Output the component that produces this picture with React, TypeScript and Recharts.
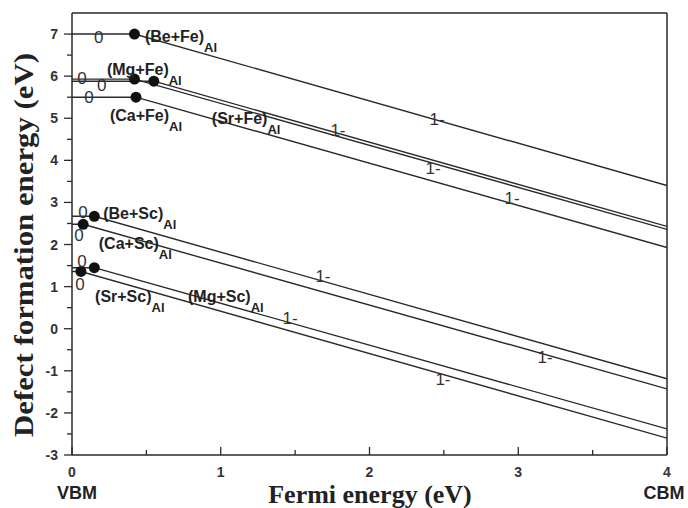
import React from "react";
import { LineChart, Line, XAxis, YAxis, ReferenceLine, ReferenceDot } from "recharts";

// defect complexes, neutral (0) formation energy, 0/1- transition level and value at the CBM
const defects = ["(Be+Fe)", "(Mg+Fe)", "(Sr+Fe)", "(Ca+Fe)", "(Be+Sc)", "(Ca+Sc)", "(Mg+Sc)", "(Sr+Sc)"];
const neutralLevel = [7.0, 5.93, 5.88, 5.5, 2.67, 2.48, 1.45, 1.36];
const transitionX = [0.42, 0.42, 0.55, 0.43, 0.15, 0.075, 0.15, 0.06];
const cbmLevel = [3.4, 2.36, 2.43, 1.93, -1.19, -1.43, -2.38, -2.6];

// where the names sit (left edge, middle), in eV
const nameX = [0.49, 0.235, 0.94, 0.255, 0.21, 0.18, 0.78, 0.155];
const nameY = [6.95, 6.17, 5.0, 5.08, 2.75, 2.04, 0.78, 0.78];

// charge state labels
const zeroX = [0.18, 0.067, 0.2, 0.114, 0.074, 0.047, 0.067, 0.054];
const zeroY = [6.93, 5.96, 5.79, 5.5, 2.77, 2.23, 1.61, 1.06];
const minusX = [2.454, 1.788, 2.427, 2.958, 1.687, 1.466, 3.18, 2.494];
const minusY = [4.98, 4.72, 3.82, 3.1, 1.25, 0.26, -0.67, -1.19];

const xTicks = [0, 0.5, 1, 1.5, 2, 2.5, 3, 3.5, 4];
const yTicks = [-3, -2.5, -2, -1.5, -1, -0.5, 0, 0.5, 1, 1.5, 2, 2.5, 3, 3.5, 4, 4.5, 5, 5.5, 6, 6.5, 7];

const series = defects.map((name, i) => ({
  name,
  points: [
    { x: 0, y: neutralLevel[i] },
    { x: transitionX[i], y: neutralLevel[i] },
    { x: 4, y: cbmLevel[i] },
  ],
}));

const sans = "'Liberation Sans', Arial, sans-serif";
const serif = "'Liberation Serif', 'Times New Roman', serif";
const ink = "#2a2a2a";

const YTick = (props: any) => {
  const { x, y, payload } = props;
  const major = Number.isInteger(payload.value);
  return (
    <g>
      <line x1={x} x2={x - (major ? 8 : 5)} y1={y} y2={y} stroke={ink} strokeWidth={1.3} />
      {major && (
        <text x={x - 14} y={y + 5} textAnchor="end" fontFamily={sans} fontWeight="bold" fontSize={14} fill="#333">
          {payload.value}
        </text>
      )}
    </g>
  );
};

const XTick = (props: any) => {
  const { x, y, payload } = props;
  const major = Number.isInteger(payload.value);
  return (
    <g>
      <line x1={x} x2={x} y1={y} y2={y - (major ? 8 : 5)} stroke={ink} strokeWidth={1.3} />
      {major && (
        <text x={x} y={y + 22} textAnchor="middle" fontFamily={sans} fontWeight="bold" fontSize={14} fill="#333">
          {payload.value}
        </text>
      )}
    </g>
  );
};

const transitionDot = (props: any) => {
  const { cx, cy, index } = props;
  if (index !== 1) return <g key={`d${index}`} />;
  return <circle key={`d${index}`} cx={cx} cy={cy} r={5.5} fill="#111" />;
};

const nameShape = (name: string) => (props: any) => (
  <text x={props.cx} y={props.cy + 6} fontFamily={sans} fontWeight="bold" fontSize={16} fill="#222">
    {name}
    <tspan dy={10} fontSize={13}>Al</tspan>
  </text>
);

const chargeShape = (label: string, size: number) => (props: any) => (
  <text x={props.cx} y={props.cy + size * 0.36} textAnchor="middle" fontFamily={sans} fontSize={size} fill="#333">
    {label}
  </text>
);

export default function App() {
  return (
    <div style={{ position: "absolute", left: 0, top: 0, background: "#fff" }}>
      <LineChart width={688} height={508} margin={{ top: 13, right: 21, bottom: 0, left: 0 }}>
        <XAxis
          type="number"
          dataKey="x"
          domain={[0, 4]}
          ticks={xTicks}
          tick={<XTick />}
          tickLine={false}
          tickSize={0}
          tickMargin={0}
          height={53}
          interval={0}
          axisLine={{ stroke: ink, strokeWidth: 1.5 }}
          allowDataOverflow
        />
        <YAxis
          type="number"
          dataKey="y"
          domain={[-3, 7.5]}
          ticks={yTicks}
          tick={<YTick />}
          tickLine={false}
          tickSize={0}
          tickMargin={0}
          width={72}
          interval={0}
          axisLine={{ stroke: ink, strokeWidth: 1.5 }}
          allowDataOverflow
        />
        <ReferenceLine y={7.5} stroke={ink} strokeWidth={1.5} />
        <ReferenceLine x={4} stroke={ink} strokeWidth={1.5} />
        {series.map((s) => (
          <Line
            key={s.name}
            data={s.points}
            dataKey="y"
            type="linear"
            stroke={ink}
            strokeWidth={1.4}
            dot={transitionDot}
            activeDot={false}
            isAnimationActive={false}
          />
        ))}
        {defects.map((name, i) => (
          <ReferenceDot key={`n${i}`} x={nameX[i]} y={nameY[i]} r={1} shape={nameShape(name)} />
        ))}
        {zeroX.map((x, i) => (
          <ReferenceDot key={`z${i}`} x={x} y={zeroY[i]} r={1} shape={chargeShape("0", 17)} />
        ))}
        {minusX.map((x, i) => (
          <ReferenceDot key={`m${i}`} x={x} y={minusY[i]} r={1} shape={chargeShape("1-", 17)} />
        ))}
        <text
          transform="translate(33,245) rotate(-90)"
          textAnchor="middle"
          fontFamily={serif}
          fontWeight="bold"
          fontSize={27}
          textLength={384}
          lengthAdjust="spacingAndGlyphs"
          fill="#222"
        >
          Defect formation energy (eV)
        </text>
        <text x={370} y={503} textAnchor="middle" fontFamily={serif} fontWeight="bold" fontSize={26} fill="#222">
          Fermi energy (eV)
        </text>
        <text x={77} y={499} textAnchor="middle" fontFamily={sans} fontWeight="bold" fontSize={18} fill="#222">
          VBM
        </text>
        <text x={664} y={499} textAnchor="middle" fontFamily={sans} fontWeight="bold" fontSize={18} fill="#222">
          CBM
        </text>
      </LineChart>
    </div>
  );
}
